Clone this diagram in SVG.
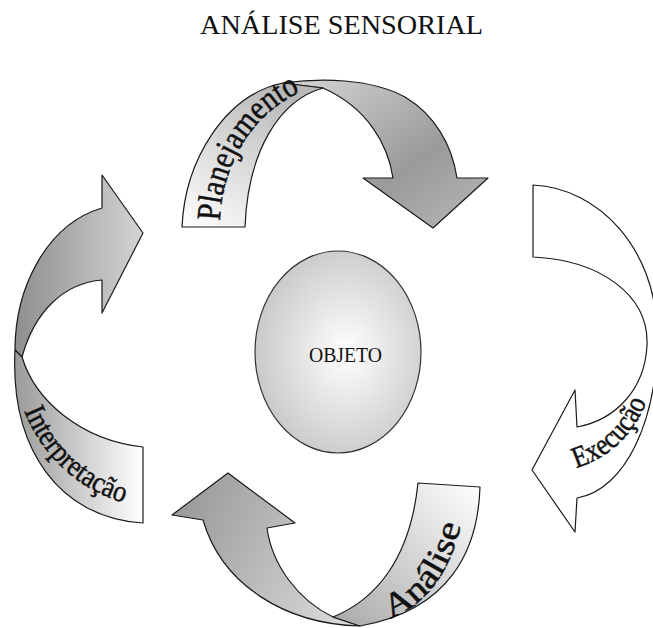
<svg xmlns="http://www.w3.org/2000/svg" width="653" height="628" viewBox="0 0 653 628">
<style>
.rib{stroke:#1a1a1a;stroke-width:1.2;stroke-linejoin:round}
.lbl{font-family:"Liberation Serif","Times New Roman",serif;fill:#111}
.rl{stroke:#111;stroke-width:0.5}
</style>
<defs>
<linearGradient id="gTopDark" x1="0" y1="0" x2="1" y2="1"><stop offset="0" stop-color="#d6d6d6"/><stop offset="0.6" stop-color="#9a9a9a"/><stop offset="1" stop-color="#b8b8b8"/></linearGradient>
<linearGradient id="gTopLight" x1="0" y1="1" x2="0.6" y2="0"><stop offset="0" stop-color="#ffffff"/><stop offset="1" stop-color="#b8b8b8"/></linearGradient>
<linearGradient id="gBotDark" x1="0" y1="0.3" x2="1" y2="0.7"><stop offset="0" stop-color="#9a9a9a"/><stop offset="1" stop-color="#d8d8d8"/></linearGradient>
<linearGradient id="gBotLight" x1="0" y1="1" x2="1" y2="0"><stop offset="0" stop-color="#a8a8a8"/><stop offset="1" stop-color="#ffffff"/></linearGradient>
<linearGradient id="gLeftDark" x1="0" y1="0" x2="1" y2="0"><stop offset="0" stop-color="#8e8e8e"/><stop offset="1" stop-color="#d4d4d4"/></linearGradient>
<linearGradient id="gLeftLight" x1="0" y1="0" x2="1" y2="0"><stop offset="0" stop-color="#9a9a9a"/><stop offset="1" stop-color="#ffffff"/></linearGradient>
<radialGradient id="gObj" cx="0.55" cy="0.5" r="0.6"><stop offset="0" stop-color="#ffffff"/><stop offset="1" stop-color="#c4c4c4"/></radialGradient>
<path id="pPlan" d="M220,221 C222,165 252,112 305,90"/>
<path id="pExec" d="M576,468 Q628,452 648,398"/>
<path id="pAnal" d="M390,618 C428,604 455,570 466,500"/>
<path id="pInt" d="M24,411 C45,462 85,495 137,506"/>
</defs>
<rect width="653" height="628" fill="#ffffff"/>
<text class="lbl" x="341.5" y="34" font-size="28" text-anchor="middle" textLength="283" lengthAdjust="spacingAndGlyphs">ANÁLISE SENSORIAL</text>

<g id="objeto">
<ellipse cx="338" cy="352" rx="83" ry="101" fill="url(#gObj)" stroke="#333" stroke-width="1.2"/>
<text class="lbl" x="345.5" y="362" font-size="21" text-anchor="middle" textLength="73" lengthAdjust="spacingAndGlyphs">OBJETO</text>
</g>

<g id="connectors">
<g id="planejamento">
<path class="rib" fill="url(#gTopDark)" d="M283,83 C320,78 370,78 405,97 C435,115 452,145 457,178 L488,178 L433,228 L363,178 L393,178 C388,145 368,108 323,88 Z"/>
<path class="rib" fill="url(#gTopLight)" d="M182,227 C185,160 225,95 283,83 L323,88 C280,100 248,150 245,227 Z"/>
<text class="lbl rl" font-size="34"><textPath href="#pPlan" textLength="160" lengthAdjust="spacingAndGlyphs">Planejamento</textPath></text>
</g>
<g id="execucao">
<path class="rib" fill="#ffffff" d="M533,185 C600,188 655,250 657,330 C659,420 625,490 577,498 L575,532 L532,470 L575,390 L577,427 C615,420 645,390 647,345 C649,295 600,260 533,257 Z"/>
<text class="lbl rl" font-size="30"><textPath href="#pExec" textLength="100" lengthAdjust="spacingAndGlyphs">Execução</textPath></text>
</g>
<g id="analise">
<path class="rib" fill="url(#gBotDark)" d="M360,626 C285,624 222,585 203,520 L172,515 L228,473 L295,523 L267,528 C272,565 298,600 333,617 Z"/>
<path class="rib" fill="url(#gBotLight)" d="M418,483 L480,487 C478,550 450,610 360,626 L333,617 C375,600 410,560 418,483 Z"/>
<text class="lbl rl" font-size="34"><textPath href="#pAnal" textLength="122" lengthAdjust="spacingAndGlyphs">Análise</textPath></text>
</g>
<g id="interpretacao">
<path class="rib" fill="url(#gLeftDark)" d="M102,208 L102,175 L143,233 L102,313 L102,280 C65,283 35,310 22,357 L15,350 C15,290 45,225 102,208 Z"/>
<path class="rib" fill="url(#gLeftLight)" d="M15,350 L22,357 C35,400 80,440 143,447 L143,523 C60,518 10,450 15,350 Z"/>
<text class="lbl rl" font-size="30"><textPath href="#pInt" textLength="140" lengthAdjust="spacingAndGlyphs">Interpretação</textPath></text>
</g>
</g>
</svg>
